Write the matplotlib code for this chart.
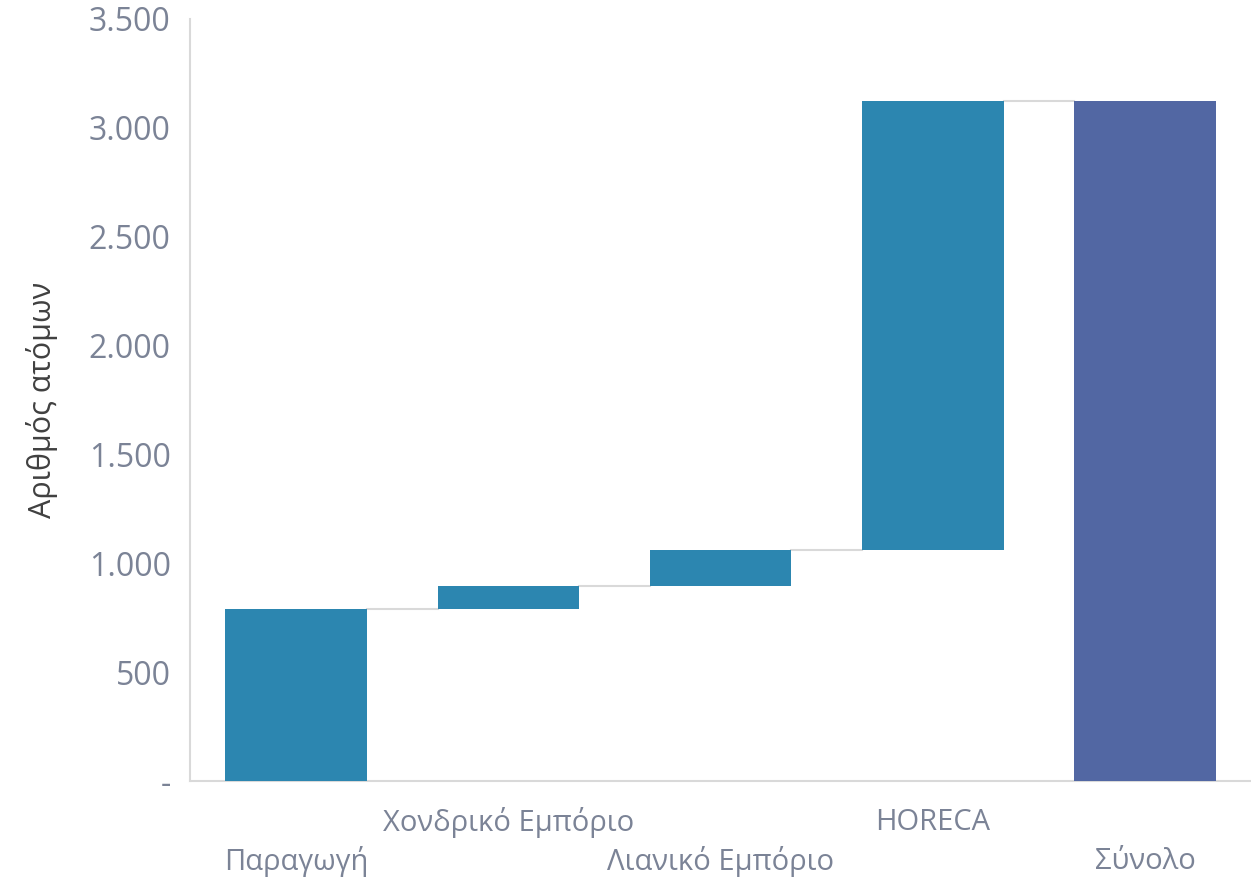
import matplotlib.pyplot as plt
import numpy as np
from matplotlib.ticker import FuncFormatter

# Δεδομένα
categories = ["Παραγωγή", "Χονδρικό Εμπόριο", "Λιανικό Εμπόριο", "HORECA", "Σύνολο"]
steps = [790, 105, 165, 2065]
total = sum(steps)
yticks = [0, 500, 1000, 1500, 2000, 2500, 3000, 3500]

text_color = "#7b8396"
bar_color = "#2c86b0"
total_color = "#5267a3"
line_color = "#d9d9d9"

plt.rcParams['font.family'] = ['Open Sans', 'DejaVu Sans']

fig = plt.figure(figsize=(12.51, 8.83), dpi=100)
ax = fig.add_axes([0.152, 0.1155, 0.848, 0.863])

width = 0.667
bottoms = np.concatenate([[0], np.cumsum(steps)[:-1]])
x = np.arange(len(categories))

ax.bar(x[:-1], steps, bottom=bottoms, width=width, color=bar_color, zorder=3)
ax.bar(x[-1], total, width=width, color=total_color, zorder=3)

# Γραμμές σύνδεσης
tops = np.cumsum(steps)
for i, t in enumerate(tops):
    ax.plot([x[i] + width / 2, x[i + 1] - width / 2], [t, t],
            color=line_color, lw=1.5, zorder=2)

ax.set_xlim(-0.5, 4.5)
ax.set_ylim(0, 3500)
ax.set_yticks(yticks)
ax.yaxis.set_major_formatter(FuncFormatter(
    lambda v, p: "-" if v == 0 else f"{int(v):,}".replace(",", ".")))
ax.tick_params(axis='y', length=0, labelsize=23, labelcolor=text_color, pad=14)
ax.set_xticks(x)
ax.set_xticklabels([])
ax.tick_params(axis='x', length=0)

for i, c in enumerate(categories):
    yoff = -0.054 if i % 2 == 1 else -0.106
    ax.text(x[i], yoff, c, transform=ax.get_xaxis_transform(), ha='center',
            va='center', fontsize=21, color=text_color)

ax.set_ylabel("Αριθμός ατόμων", fontsize=22, color="#404040", labelpad=22)

for s in ['top', 'right']:
    ax.spines[s].set_visible(False)
ax.spines['left'].set_color(line_color)
ax.spines['bottom'].set_color(line_color)
ax.spines['left'].set_linewidth(1.5)
ax.spines['bottom'].set_linewidth(1.5)

fig.savefig("out.png", dpi=100)
